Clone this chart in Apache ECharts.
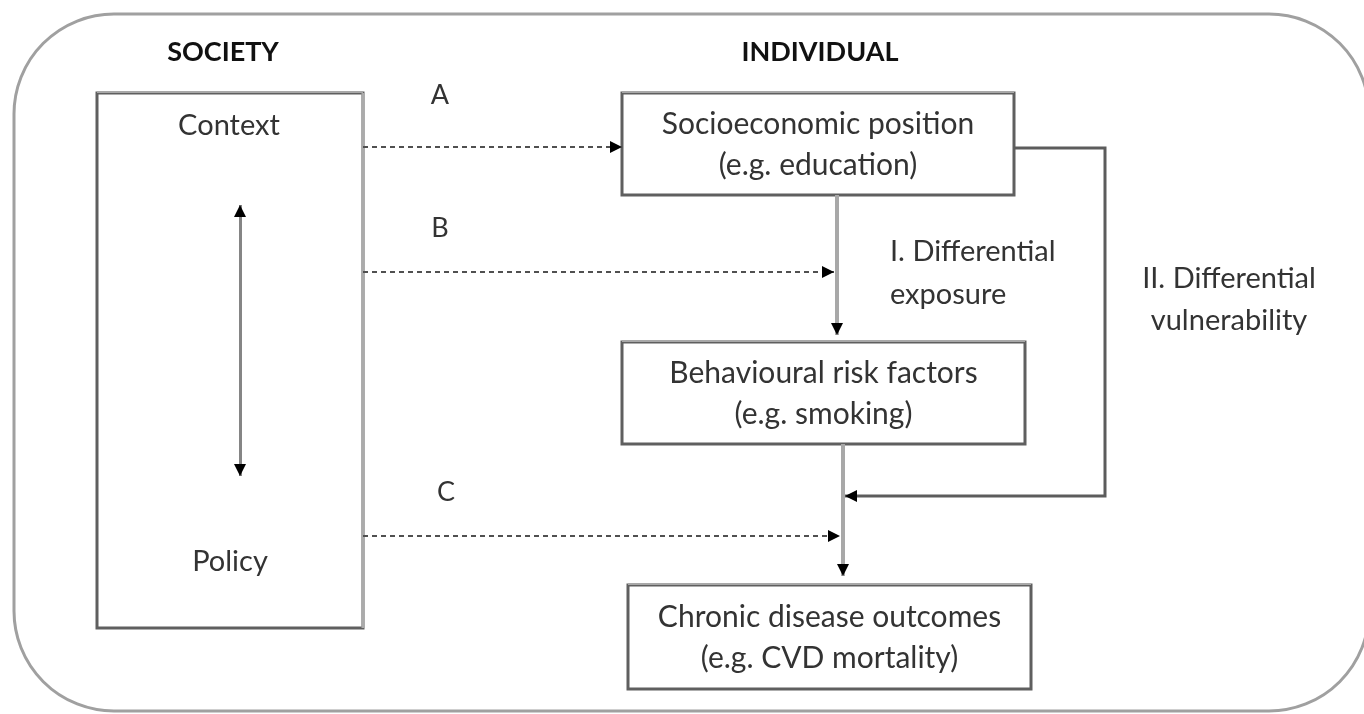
<!DOCTYPE html>
<html>
<head>
<meta charset="utf-8">
<script src="https://cdn.jsdelivr.net/npm/echarts@6/dist/echarts.min.js"></script>
<style>
  html, body { margin: 0; padding: 0; background: #ffffff; }
  #chart { width: 1364px; height: 714px; }
</style>
</head>
<body>
<div id="chart"></div>
<script>
// ---------- data ----------
const levelHeadings = ['SOCIETY', 'INDIVIDUAL'];
const societyTerms = ['Context', 'Policy'];
const nodeNames = ['Socioeconomic position', 'Behavioural risk factors', 'Chronic disease outcomes'];
const nodeExamples = ['(e.g. education)', '(e.g. smoking)', '(e.g. CVD mortality)'];
const pathwayLetters = ['A', 'B', 'C'];
const mechanismLabels = [['I. Differential', 'exposure'], ['II. Differential', 'vulnerability']];

// ---------- layout (pixel space of the 1364 x 714 canvas) ----------
const L = {
  frame: { x: 14, y: 14, w: 1355, h: 697, r: 100 },
  societyBox: { x: 97, y: 93, w: 266, h: 535 },
  headingPos: [[223, 52], [820, 52]],
  termPos: [[229, 126], [230, 562]],
  nodeBoxes: [
    { x: 622, y: 93, w: 392, h: 102 },
    { x: 622, y: 342, w: 403, h: 102 },
    { x: 628, y: 585, w: 403, h: 104 }
  ],
  letterPos: [[440, 95], [440, 228], [446, 492]],
  dashedPaths: [
    [[363, 147], [622, 147]],
    [[363, 272], [834, 272]],
    [[363, 536], [840, 536]]
  ],
  mainPaths: [
    [[837, 195], [837, 335]],
    [[843, 444], [843, 576]]
  ],
  vulnPath: [[1014, 148], [1105, 148], [1105, 496], [845, 496]],
  doubleArrow: [[240, 205], [240, 476]],
  mechPos: [{ x: 890, y: [252, 295], align: 'left' }, { x: 1229, y: [279, 321], align: 'center' }]
};

const FONT = 'Lato, "Open Sans", sans-serif';
const TXT = '#333333';
const BOX = '#5f5f5f';

// build text items
const textItems = [];
levelHeadings.forEach((t, i) => textItems.push({ t, p: L.headingPos[i], size: 27, weight: 'bold', align: 'center', color: '#111111' }));
societyTerms.forEach((t, i) => textItems.push({ t, p: L.termPos[i], size: 29, weight: 'normal', align: 'center', color: TXT }));
pathwayLetters.forEach((t, i) => textItems.push({ t, p: L.letterPos[i], size: 27, weight: 'normal', align: 'center', color: TXT }));
nodeNames.forEach((t, i) => {
  const b = L.nodeBoxes[i];
  const cx = b.x + b.w / 2, cy = b.y + b.h / 2;
  textItems.push({ t, p: [cx, cy - 20], size: 30, weight: 'normal', align: 'center', color: TXT });
  textItems.push({ t: nodeExamples[i], p: [cx, cy + 21], size: 30, weight: 'normal', align: 'center', color: TXT });
});
mechanismLabels.forEach((lines, i) => {
  const m = L.mechPos[i];
  lines.forEach((t, j) => textItems.push({ t, p: [m.x, m.y[j]], size: 29, weight: 'normal', align: m.align, color: TXT }));
});

const boxItems = [L.societyBox].concat(L.nodeBoxes);

// arrow heads: [tipPoint, pointBehindTip]
const arrowHeads = [];
function addHead(path, atStart) {
  const n = path.length;
  if (atStart) arrowHeads.push([path[0], path[1]]);
  else arrowHeads.push([path[n - 1], path[n - 2]]);
}
L.dashedPaths.forEach(p => addHead(p, false));
L.mainPaths.forEach(p => addHead(p, false));
addHead(L.vulnPath, false);
addHead(L.doubleArrow, false);
addHead(L.doubleArrow, true);

const chart = echarts.init(document.getElementById('chart'), null, { renderer: 'canvas' });

function rectShape(api, b) {
  const p1 = api.coord([b.x, b.y]);
  const p2 = api.coord([b.x + b.w, b.y + b.h]);
  return { x: p1[0], y: p1[1], width: p2[0] - p1[0], height: p2[1] - p1[1] };
}

chart.setOption({
  animation: false,
  backgroundColor: '#ffffff',
  grid: { left: 0, right: 0, top: 0, bottom: 0 },
  xAxis: { type: 'value', min: 0, max: 1364, show: false },
  yAxis: { type: 'value', min: 0, max: 714, inverse: true, show: false },
  series: [
    {
      type: 'custom',
      name: 'frame',
      coordinateSystem: 'cartesian2d',
      data: [0],
      silent: true,
      clip: false,
      renderItem: function (params, api) {
        const s = rectShape(api, L.frame);
        s.r = L.frame.r;
        return { type: 'rect', shape: s, style: { fill: 'none', stroke: '#a0a0a0', lineWidth: 3 } };
      }
    },
    {
      type: 'custom',
      name: 'boxes',
      coordinateSystem: 'cartesian2d',
      data: boxItems.map((b, i) => i),
      silent: true,
      z: 2,
      renderItem: function (params, api) {
        const b = boxItems[params.dataIndex];
        const s = rectShape(api, b);
        const children = [
          { type: 'rect', shape: s, style: { fill: '#ffffff', stroke: BOX, lineWidth: 3 } }
        ];
        if (params.dataIndex === 0) {
          // lighter right edge of the society box, as in the scanned figure
          children.push({
            type: 'line',
            shape: { x1: s.x + s.width, y1: s.y, x2: s.x + s.width, y2: s.y + s.height },
            style: { stroke: '#ababab', lineWidth: 3 }
          });
        }
        // lighter top edge highlight
        children.push({
          type: 'line',
          shape: { x1: s.x, y1: s.y - 1, x2: s.x + s.width, y2: s.y - 1 },
          style: { stroke: '#a8a8a8', lineWidth: 2 }
        });
        return { type: 'group', children };
      }
    },
    {
      type: 'lines',
      name: 'dashed',
      coordinateSystem: 'cartesian2d',
      z: 3,
      symbol: 'none',
      lineStyle: { color: '#505050', width: 2, type: [5, 4], opacity: 1 },
      data: L.dashedPaths.map(c => ({ coords: c }))
    },
    {
      type: 'lines',
      name: 'main',
      coordinateSystem: 'cartesian2d',
      z: 3,
      symbol: 'none',
      lineStyle: { color: '#a8a8a8', width: 4, opacity: 1 },
      data: L.mainPaths.map(c => ({ coords: c }))
    },
    {
      type: 'lines',
      name: 'vulnerability',
      coordinateSystem: 'cartesian2d',
      polyline: true,
      z: 3,
      symbol: 'none',
      lineStyle: { color: '#5c5c5c', width: 3, opacity: 1 },
      data: [{ coords: L.vulnPath }]
    },
    {
      type: 'lines',
      name: 'double',
      coordinateSystem: 'cartesian2d',
      z: 3,
      symbol: 'none',
      lineStyle: { color: '#858585', width: 3, opacity: 1 },
      data: [{ coords: L.doubleArrow }]
    },
    {
      type: 'custom',
      name: 'arrowheads',
      coordinateSystem: 'cartesian2d',
      data: arrowHeads.map((a, i) => i),
      silent: true,
      z: 4,
      renderItem: function (params, api) {
        const a = arrowHeads[params.dataIndex];
        const tip = api.coord(a[0]);
        const back = api.coord(a[1]);
        let dx = tip[0] - back[0], dy = tip[1] - back[1];
        const len = Math.sqrt(dx * dx + dy * dy) || 1;
        dx /= len; dy /= len;
        const hl = 12, hw = 6;
        const bx = tip[0] - dx * hl, by = tip[1] - dy * hl;
        return {
          type: 'polygon',
          shape: { points: [tip, [bx - dy * hw, by + dx * hw], [bx + dy * hw, by - dx * hw]] },
          style: { fill: '#000000' }
        };
      }
    },
    {
      type: 'custom',
      name: 'texts',
      coordinateSystem: 'cartesian2d',
      data: textItems.map((d, i) => i),
      silent: true,
      z: 5,
      renderItem: function (params, api) {
        const d = textItems[params.dataIndex];
        const p = api.coord(d.p);
        return {
          type: 'text',
          style: {
            text: d.t, x: p[0], y: p[1], align: d.align, verticalAlign: 'middle',
            fontSize: d.size, fontWeight: d.weight, fontFamily: FONT, fill: d.color
          }
        };
      }
    }
  ]
});
</script>
</body>
</html>
